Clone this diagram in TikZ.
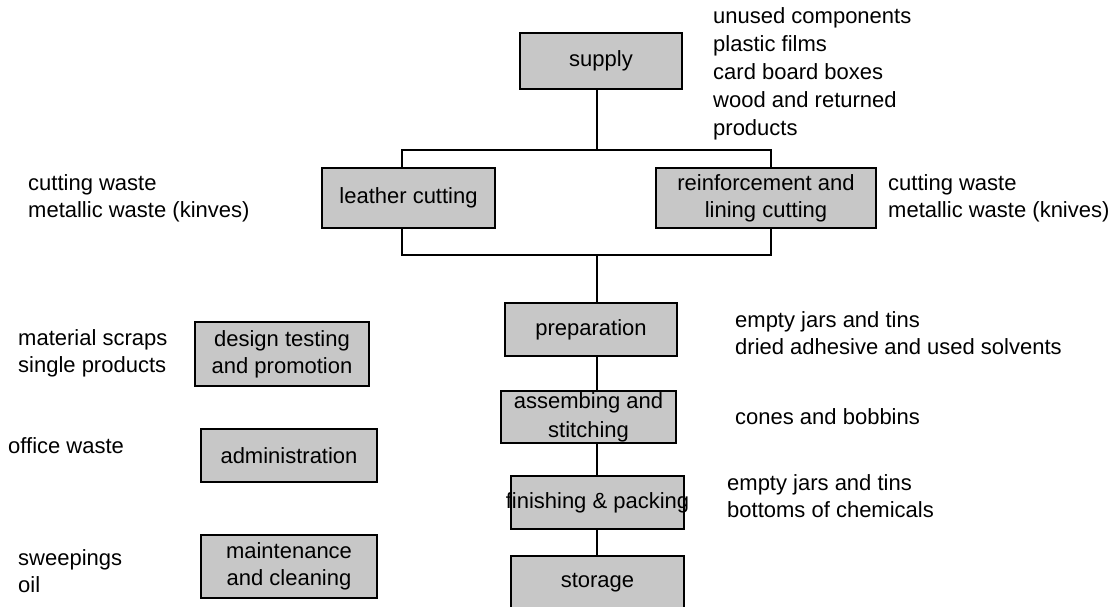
\documentclass[tikz,border=0pt]{standalone}
\usepackage{fontspec}
\setmainfont{Liberation Sans}
\begin{document}
\begin{tikzpicture}[x=1pt,y=-1pt,
  every node/.style={font=\fontsize{22}{27}\selectfont},
  stage/.style={draw=black,line width=2.6pt,fill=black!22,inner sep=0pt,align=center,
    font=\fontsize{22}{27}\selectfont},
  waste/.style={inner sep=0pt,align=left,anchor=west},
  link/.style={line width=2pt,line cap=rect}
]
\useasboundingbox (0,0) rectangle (1117,606);

% process boxes
\node[stage,minimum width=162pt,minimum height=56pt] (supply) at (601,61) {supply};
\node[stage,minimum width=173pt,minimum height=60pt] (leather) at (408.5,198) {leather cutting};
\node[stage,minimum width=220pt,minimum height=60pt] (reinf) at (766,198) {reinforcement and\\lining cutting};
\node[stage,minimum width=172pt,minimum height=53pt] (prep) at (591,329.5) {preparation};
\node[stage,minimum width=175pt,minimum height=52pt,font=\fontsize{22}{29}\selectfont] (asm) at (588.5,417) {assembing and\\stitching};
\node[stage,minimum width=173pt,minimum height=53pt] (fin) at (597.5,502.5) {\makebox[0pt][c]{finishing \& packing}};
\node[stage,minimum width=173pt,minimum height=54pt] (stor) at (597.5,583) {storage};

\node[stage,minimum width=174pt,minimum height=64pt] (design) at (282,354) {design testing\\and promotion};
\node[stage,minimum width=176pt,minimum height=53pt] (admin) at (289,455.5) {administration};
\node[stage,minimum width=176pt,minimum height=63pt] (maint) at (289,566.5) {maintenance\\and cleaning};

% spine and junction coordinates
\coordinate (spine) at (597,0);
\coordinate (split) at (597,150);
\coordinate (join) at (597,255);
\coordinate (lx) at (402,0);
\coordinate (rx) at (771,0);

% connectors
\draw[link] (supply.south -| spine) -- (split);
\draw[link] (split -| lx) -- (split -| rx);
\draw[link] (split -| lx) -- (leather.north -| lx);
\draw[link] (split -| rx) -- (reinf.north -| rx);
\draw[link] (leather.south -| lx) -- (join -| lx) -- (join -| rx) -- (reinf.south -| rx);
\draw[link] (join) -- (prep.north -| spine);
\draw[link] (prep.south -| spine) -- (asm.north -| spine);
\draw[link] (asm.south -| spine) -- (fin.north -| spine);
\draw[link] (fin.south -| spine) -- (stor.north -| spine);

% waste labels
\node[waste,font=\fontsize{22}{28}\selectfont] (wsupply) at (713,74) {unused components\\plastic films\\card board boxes\\wood and returned\\products};
\node[waste] (wleather) at (28,198.5) {cutting waste\\metallic waste (kinves)};
\node[waste] (wreinf) at (888,198.5) {cutting waste\\metallic waste (knives)};
\node[waste] (wprep) at (735,333.5) {empty jars and tins\\dried adhesive and used solvents};
\node[waste] (wasm) at (735,417) {cones and bobbins};
\node[waste] (wfin) at (727,496.5) {empty jars and tins\\bottoms of chemicals};
\node[waste] (wdesign) at (18,353.5) {material scraps\\single products};
\node[waste] (wadmin) at (8,446) {office waste};
\node[waste] (wmaint) at (18,571.5) {sweepings\\oil};
\end{tikzpicture}
\end{document}
